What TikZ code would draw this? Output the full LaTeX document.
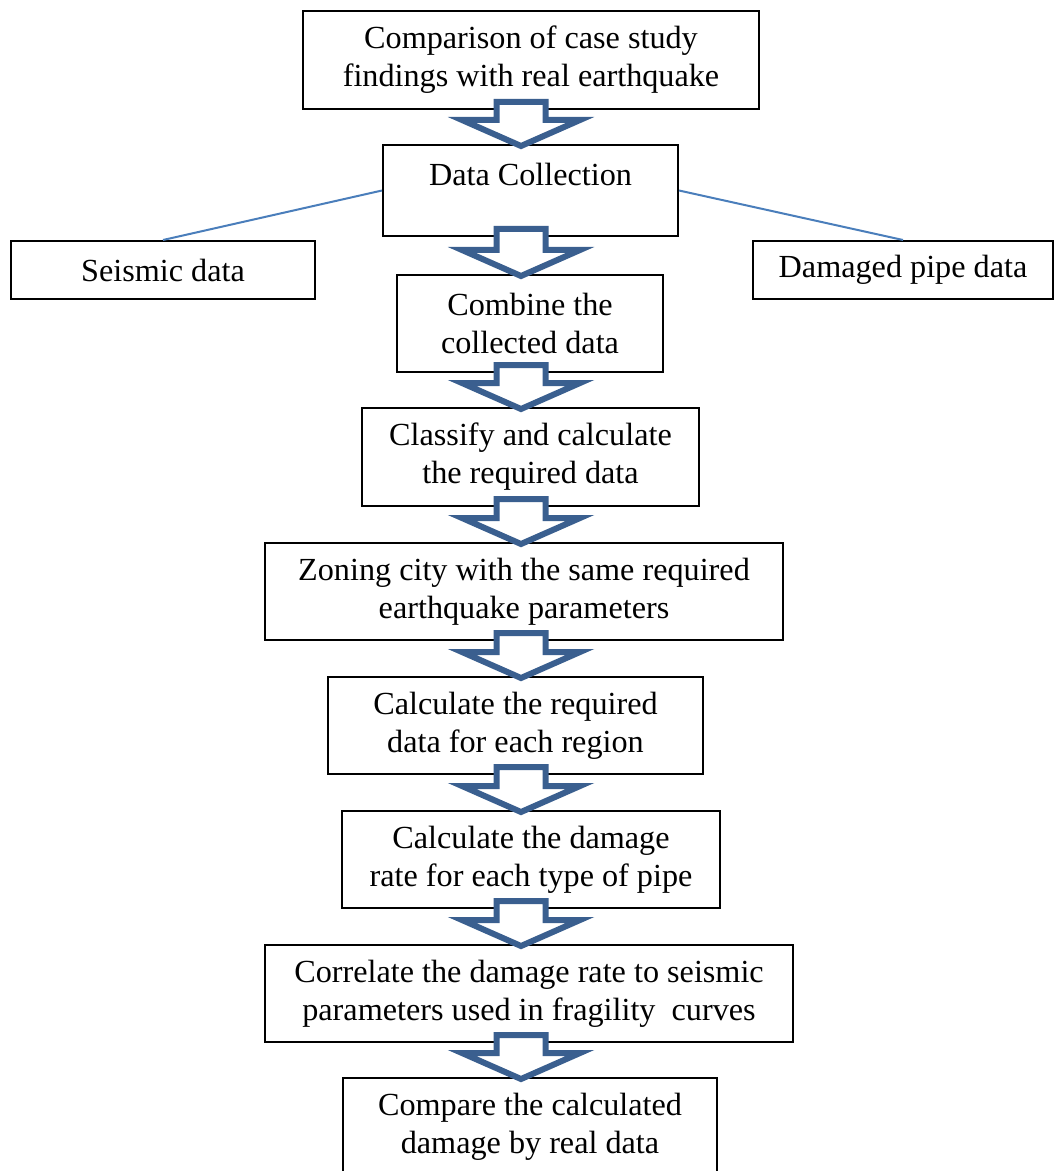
\documentclass[tikz,border=0pt]{standalone}
\usepackage{fontspec}
\setmainfont{Liberation Serif}
\usepackage{tikz}
\usetikzlibrary{calc}
\definecolor{arrowblue}{HTML}{3A5F8F}
\definecolor{linkblue}{HTML}{4A7EBB}

\begin{document}
\begin{tikzpicture}[x=0.5pt,y=-0.5pt,
		box/.style={draw=black,line width=1pt,fill=white,align=center,inner sep=0pt,
			font=\fontsize{16.1}{19}\selectfont},
		blockarrow/.style={draw=arrowblue,line width=3pt,fill=white,line join=miter},
		link/.style={draw=linkblue,line width=1pt}]
		
		\useasboundingbox (0,0) rectangle (1055,1171);
		\coordinate (ax) at (521,0);
		
		\node[box,minimum width=228pt,minimum height=49pt](cmp) at (531,60){Comparison of case study\\findings with real earthquake};
		\node[box,minimum width=147.5pt,minimum height=45.5pt](dc) at (530.5,190.5){\rule{0pt}{14pt}Data Collection\\\mbox{}};
		\node[box,minimum width=152pt,minimum height=29pt](seis) at (163,270){Seismic data};
		\node[box,minimum width=150pt,minimum height=29pt](dmg) at (903,270){Damaged pipe data};
		\node[box,minimum width=133pt,minimum height=48.5pt](comb) at (530,323.5){Combine the\\collected data};
		\node[box,minimum width=168.5pt,minimum height=49pt](cls) at (530.5,457){Classify and calculate\\the required data};
		\node[box,minimum width=259pt,minimum height=48.5pt](zon) at (524,591.5){Zoning city with the same required\\earthquake parameters};
		\node[box,minimum width=187.5pt,minimum height=48.5pt](reg) at (515.5,725.5){Calculate the required\\data for each region};
		\node[box,minimum width=189pt,minimum height=48.5pt](rate) at (531,859.5){Calculate the damage\\rate for each type of pipe};
		\node[box,minimum width=264pt,minimum height=48.5pt](cor) at (529,993.5){Correlate the damage rate to seismic\\parameters used in fragility~ curves};
		\node[box,minimum width=187pt,minimum height=48.5pt](fin) at (530,1126.5){Compare the calculated\\damage by real data};
		
		\path[link]
		(dc.west) edge (seis.north)
		(dc.east) edge (dmg.north);
		
		\foreach \u/\l in {cmp/dc,dc/comb,comb/cls,cls/zon,zon/reg,reg/rate,rate/cor,cor/fin}
		\draw[blockarrow] ($(\u.south -| ax)+(-24.5,-8)$) -- ($(\l.north -| ax)+(-24.5,-24)$)
		-- ($(\l.north -| ax)+(-59,-24)$) -- ($(\l.north -| ax)+(0,2)$)
		-- ($(\l.north -| ax)+(59,-24)$) -- ($(\l.north -| ax)+(24.5,-24)$)
		-- ($(\u.south -| ax)+(24.5,-8)$) -- cycle;
		
	\end{tikzpicture}
\end{document}
